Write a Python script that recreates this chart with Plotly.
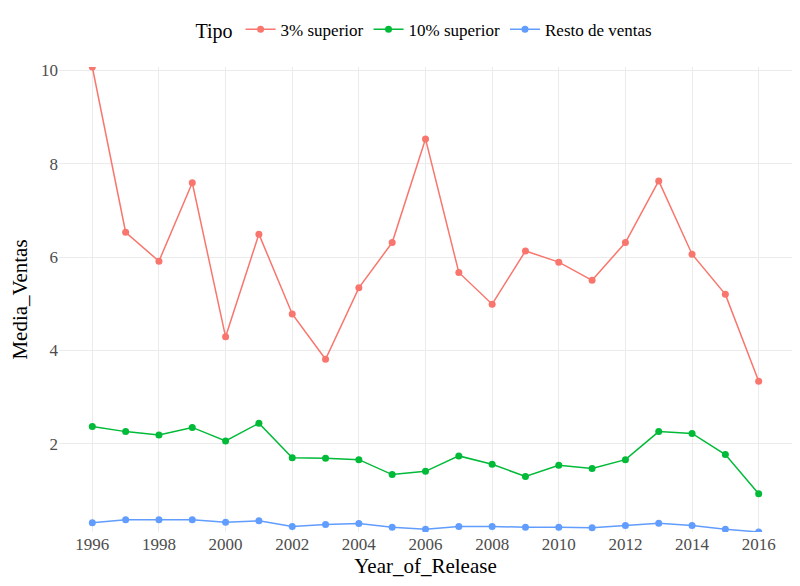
import plotly.graph_objects as go

years = list(range(1996, 2017))
top3 = [10.07, 6.53, 5.91, 7.59, 4.29, 6.49, 4.78, 3.81, 5.34, 6.31, 8.53,
        5.67, 4.99, 6.13, 5.89, 5.50, 6.31, 7.63, 6.06, 5.20, 3.34]
top10 = [2.37, 2.26, 2.19, 2.35, 2.06, 2.44, 1.70, 1.69, 1.66, 1.34, 1.41,
         1.74, 1.56, 1.30, 1.54, 1.47, 1.66, 2.26, 2.22, 1.77, 0.93]
resto = [0.31, 0.37, 0.37, 0.37, 0.32, 0.35, 0.23, 0.27, 0.29, 0.21, 0.17,
         0.23, 0.23, 0.21, 0.21, 0.20, 0.25, 0.30, 0.25, 0.17, 0.11]
series_names = ["3% superior", "10% superior", "Resto de ventas"]
colors = ["#F8766D", "#00BA38", "#619CFF"]
x_ticks = list(range(1996, 2017, 2))
y_ticks = [2, 4, 6, 8, 10]

fig = go.Figure()
for name, vals, col in zip(series_names, [top3, top10, resto], colors):
    fig.add_trace(go.Scatter(
        x=years, y=vals, name=name, mode="lines+markers",
        line=dict(color=col, width=1.5),
        marker=dict(color=col, size=7),
    ))

font_family = "Liberation Serif"
fig.update_layout(
    width=800, height=586,
    paper_bgcolor="white", plot_bgcolor="white",
    margin=dict(l=51, r=16, t=59, b=62, autoexpand=False),
    font=dict(family=font_family, color="#4d4d4d", size=17),
    legend=dict(
        orientation="h", x=0.5, xanchor="center", y=1.08, yanchor="middle",
        title=dict(text="Tipo", font=dict(size=20, color="black", family=font_family)),
        font=dict(size=17, color="black", family=font_family),
        itemwidth=30,
    ),
    xaxis=dict(
        range=[1995, 2017], tickvals=x_ticks, showgrid=True, automargin=False,
        gridcolor="#ebebeb", gridwidth=1, zeroline=False, showline=False,
        ticks="", title=dict(text="Year_of_Release",
                             font=dict(size=21, color="black", family=font_family),
                             standoff=4),
        tickfont=dict(size=17, color="#4d4d4d"),
    ),
    yaxis=dict(
        range=[0.11, 10.07], tickvals=y_ticks, showgrid=True, automargin=False,
        gridcolor="#ebebeb", gridwidth=1, zeroline=False, showline=False,
        ticks="", title=dict(text="Media_Ventas",
                             font=dict(size=21, color="black", family=font_family),
                             standoff=7),
        tickfont=dict(size=17, color="#4d4d4d"),
    ),
)

fig.write_html("out.html")
